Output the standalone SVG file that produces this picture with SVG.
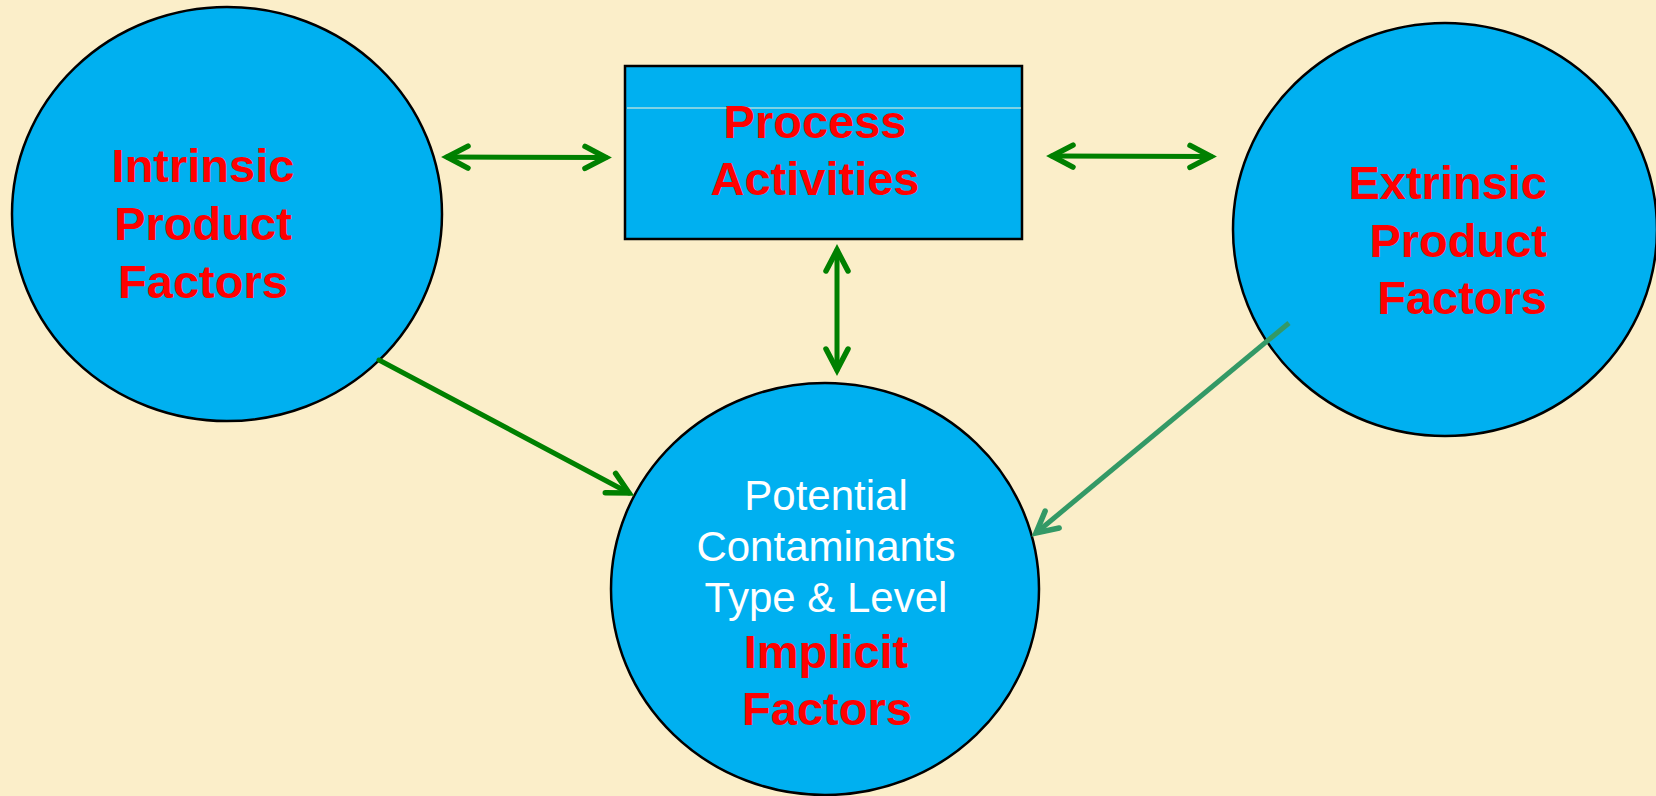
<svg xmlns="http://www.w3.org/2000/svg" width="1656" height="796" viewBox="0 0 1656 796">
  <style>
    .node { fill: #00B0F0; stroke: #000000; stroke-width: 2.5; }
    .title { font-family: "Liberation Sans", Arial, sans-serif; font-weight: bold; font-size: 47px; fill: #FF0000; }
    .body { font-family: "Liberation Sans", Arial, sans-serif; font-size: 42px; fill: #FFFFFF; }
    .link { fill: none; stroke: #008000; stroke-width: 5; stroke-linecap: round; }
    .link-alt { fill: none; stroke: #339966; stroke-width: 5; stroke-linecap: butt; }
  </style>
  <defs>
    <marker id="chev" markerUnits="userSpaceOnUse" markerWidth="40" markerHeight="40" refX="0" refY="0" orient="auto-start-reverse" overflow="visible">
      <path d="M -21 -11 L 0 0 L -21 11" fill="none" stroke="#008000" stroke-width="5.5" stroke-linecap="round" stroke-linejoin="miter"/>
    </marker>
    <marker id="chev-alt" markerUnits="userSpaceOnUse" markerWidth="40" markerHeight="40" refX="0" refY="0" orient="auto" overflow="visible">
      <path d="M -21 -11 L 0 0 L -21 11" fill="none" stroke="#339966" stroke-width="5.5" stroke-linecap="round" stroke-linejoin="miter"/>
    </marker>
  </defs>

  <rect x="0" y="0" width="1656" height="796" fill="#FBEEC9"/>

  <g id="intrinsic">
    <ellipse class="node" cx="227" cy="214" rx="215" ry="207"/>
    <text class="title" text-anchor="middle" x="203" y="182">Intrinsic</text>
    <text class="title" text-anchor="middle" x="203" y="240">Product</text>
    <text class="title" text-anchor="middle" x="203" y="298">Factors</text>
  </g>

  <g id="process">
    <rect class="node" x="625" y="66" width="397" height="173"/>
    <line x1="627" y1="108" x2="1021" y2="108" stroke="#FDF3D8" stroke-width="1.2"/>
    <text class="title" text-anchor="middle" x="815" y="138">Process</text>
    <text class="title" text-anchor="middle" x="815" y="195">Activities</text>
  </g>

  <g id="extrinsic">
    <ellipse class="node" cx="1445" cy="229.5" rx="212" ry="206.5"/>
    <text class="title" text-anchor="end" x="1547" y="199">Extrinsic</text>
    <text class="title" text-anchor="end" x="1547" y="257">Product</text>
    <text class="title" text-anchor="end" x="1547" y="314">Factors</text>
  </g>

  <g id="implicit">
    <ellipse class="node" cx="825" cy="589" rx="214" ry="206"/>
    <text class="body" text-anchor="middle" x="826" y="510">Potential</text>
    <text class="body" text-anchor="middle" x="826" y="561">Contaminants</text>
    <text class="body" text-anchor="middle" x="826" y="612">Type &amp; Level</text>
    <text class="title" text-anchor="middle" x="826" y="668">Implicit</text>
    <text class="title" text-anchor="middle" x="827" y="725">Factors</text>
  </g>

  <g id="connectors">
    <line class="link" x1="447" y1="157" x2="606" y2="157.5" marker-start="url(#chev)" marker-end="url(#chev)"/>
    <line class="link" x1="1052" y1="156" x2="1211" y2="156.5" marker-start="url(#chev)" marker-end="url(#chev)"/>
    <line class="link" x1="837" y1="250" x2="837" y2="370" marker-start="url(#chev)" marker-end="url(#chev)"/>
    <line class="link" x1="379" y1="360" x2="629" y2="493" marker-end="url(#chev)"/>
    <line class="link-alt" x1="1289" y1="323" x2="1036" y2="533" marker-end="url(#chev-alt)"/>
  </g>
</svg>
